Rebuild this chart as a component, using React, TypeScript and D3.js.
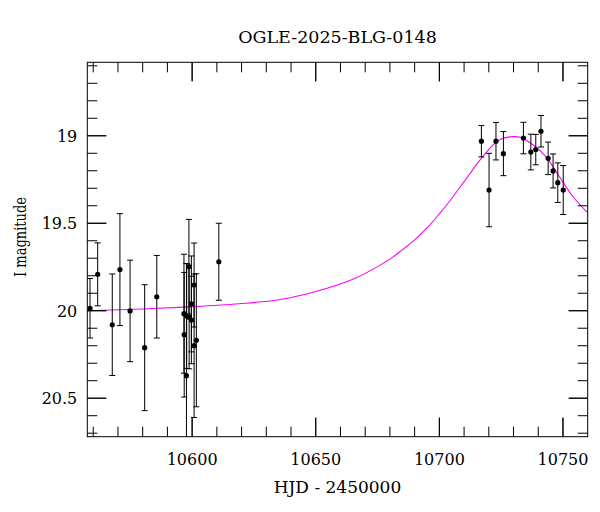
import React from "react";
import * as d3 from "d3";

const obsHJD = [10558.7, 10561.8, 10567.7, 10570.8, 10574.9, 10580.8, 10585.7,
  10596.7, 10596.8, 10597.7, 10597.8, 10598.7, 10598.8, 10599.7, 10599.7, 10600.8, 10600.8, 10601.7,
  10610.8,
  10717.0, 10720.1, 10722.9, 10725.9, 10734.0, 10737.0, 10739.0, 10741.1, 10744.0, 10746.0, 10747.9, 10750.1];
const obsMag = [19.986, 19.792, 20.08, 19.765, 20.001, 20.211, 19.92,
  20.017, 20.137, 20.371, 20.03, 19.748, 20.037, 19.961, 20.053, 19.853, 20.2, 20.169,
  19.72,
  19.031, 19.31, 19.031, 19.102, 19.013, 19.093, 19.079, 18.974, 19.129, 19.201, 19.268, 19.31];
const obsErr = [0.17, 0.18, 0.29, 0.32, 0.29, 0.36, 0.236,
  0.34, 0.356, 0.64, 0.3, 0.27, 0.295, 0.274, 0.25, 0.24, 0.41, 0.38,
  0.22,
  0.09, 0.21, 0.107, 0.126, 0.09, 0.102, 0.087, 0.09, 0.093, 0.097, 0.113, 0.14];

const modelHJD = [10557.6, 10580, 10600, 10619, 10635, 10650, 10665, 10680, 10685, 10690, 10695, 10700, 10704, 10708, 10711, 10715, 10721.5, 10725, 10729.6, 10733, 10737.7, 10743, 10748.5, 10754, 10760];
const modelMag = [20.0, 19.99, 19.977, 19.96, 19.937, 19.89, 19.82, 19.705, 19.652, 19.595, 19.527, 19.446, 19.377, 19.3, 19.243, 19.165, 19.055, 19.019, 19.005, 19.01, 19.05, 19.118, 19.233, 19.347, 19.44];

const xMajorTicks = [10600, 10650, 10700, 10750];
const xMinorTicks = d3.range(10560, 10760, 10);
const yMajorTicks = [19, 19.5, 20, 20.5];
const yMinorTicks = d3.range(18.6, 20.71, 0.1);

const W = 600, H = 512;
const L = 87.3, R = 587.7, T = 62.3, B = 436.7;
const FONT = "'DejaVu Serif', serif";

export default function App() {
  const x = d3.scaleLinear().domain([10557.6, 10760]).range([L, R]);
  const y = d3.scaleLinear().domain([18.58, 20.72]).range([T, B]);
  const line = d3.line<number>()
    .x((_, i) => x(modelHJD[i]))
    .y((d) => y(d))
    .curve(d3.curveCatmullRom.alpha(0.5));
  const majorLen = 19, minorLen = 10;
  const isMajorX = (v: number) => xMajorTicks.some((m) => Math.abs(m - v) < 1e-6);
  const isMajorY = (v: number) => yMajorTicks.some((m) => Math.abs(m - v) < 1e-6);
  const cap = 3;
  return (
    <svg width={W} height={H} style={{ position: "absolute", left: 0, top: 0, background: "#fff" }} fontFamily={FONT}>
      <defs>
        <clipPath id="plot"><rect x={L} y={T} width={R - L} height={B - T} /></clipPath>
      </defs>
      <rect x={0} y={0} width={W} height={H} fill="#fff" />
      <g clipPath="url(#plot)">
        <path d={line(modelMag) || ""} fill="none" stroke="#ff00ff" strokeWidth={1.1} />
        {obsHJD.map((t, i) => {
          const cx = x(t);
          const y1 = y(obsMag[i] - obsErr[i]);
          const y2 = y(obsMag[i] + obsErr[i]);
          return (
            <g key={i} stroke="#000" strokeWidth={1}>
              <line x1={cx} x2={cx} y1={y1} y2={y2} />
              <line x1={cx - cap} x2={cx + cap} y1={y1} y2={y1} />
              <line x1={cx - cap} x2={cx + cap} y1={y2} y2={y2} />
              <circle cx={cx} cy={y(obsMag[i])} r={2.6} fill="#000" stroke="none" />
            </g>
          );
        })}
      </g>
      <g stroke="#000" strokeWidth={1}>
        {xMinorTicks.concat(xMajorTicks).map((v, i) => {
          const len = isMajorX(v) ? majorLen : minorLen;
          const px = x(v);
          return (
            <g key={"xt" + i}>
              <line x1={px} x2={px} y1={B} y2={B - len} />
              <line x1={px} x2={px} y1={T} y2={T + len} />
            </g>
          );
        })}
        {yMinorTicks.concat(yMajorTicks).map((v, i) => {
          const len = isMajorY(+v.toFixed(2)) ? majorLen : minorLen;
          const py = y(v);
          return (
            <g key={"yt" + i}>
              <line x1={L} x2={L + len} y1={py} y2={py} />
              <line x1={R} x2={R - len} y1={py} y2={py} />
            </g>
          );
        })}
        <rect x={L} y={T} width={R - L} height={B - T} fill="none" />
      </g>
      <g fontSize={16} fill="#000">
        {xMajorTicks.map((v) => (
          <text key={"xl" + v} x={x(v)} y={B + 28} textAnchor="middle">{String(v)}</text>
        ))}
        {yMajorTicks.map((v) => (
          <text key={"yl" + v} x={77.3} y={y(v) + 6} textAnchor="end">{String(v)}</text>
        ))}
      </g>
      <text x={(L + R) / 2} y={493} textAnchor="middle" fontSize={17} fill="#000">HJD - 2450000</text>
      <text transform={`translate(26,237) rotate(-90)`} textAnchor="middle" fontSize={16.5} fill="#000"
        textLength={80} lengthAdjust="spacingAndGlyphs">I magnitude</text>
      <text x={(L + R) / 2} y={43} textAnchor="middle" fontSize={17.5} fill="#000">OGLE-2025-BLG-0148</text>
    </svg>
  );
}
